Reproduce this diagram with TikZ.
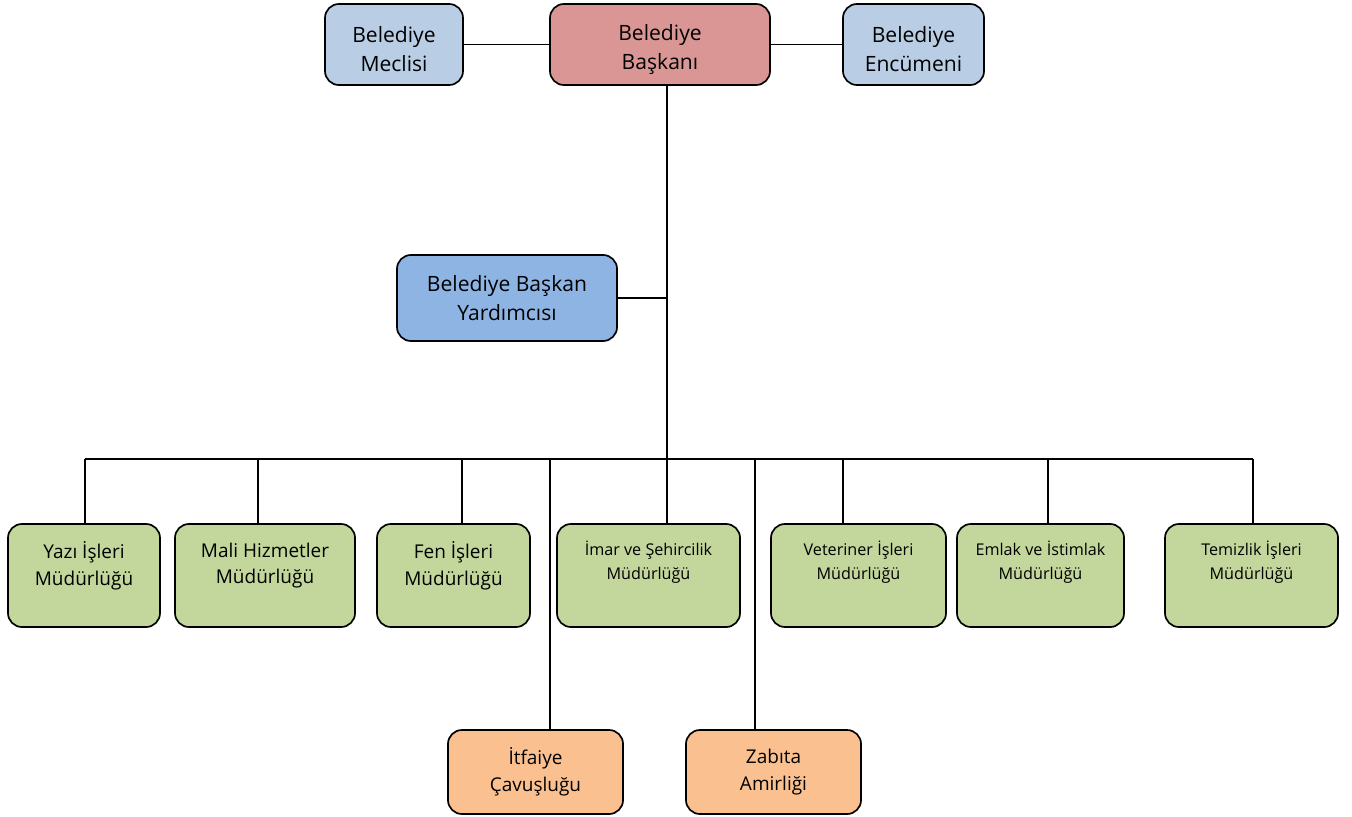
\documentclass[tikz,border=0pt]{standalone}
\usepackage{fontspec}
\setmainfont{Open Sans}
\usepackage{xcolor}
\usepackage{tikz}

\definecolor{meclisblue}{HTML}{B9CDE5}
\definecolor{baskanred}{HTML}{D99694}
\definecolor{yardimblue}{HTML}{8EB4E3}
\definecolor{mudurgreen}{HTML}{C3D69B}
\definecolor{amirorange}{HTML}{FAC090}

\begin{document}
\begin{tikzpicture}[x=0.025cm, y=-0.025cm, line width=1.3pt,
  box/.style={draw, rounded corners=0.35cm, align=center, inner sep=0, line width=1.2pt},
  topbox/.style={box, minimum height=2.025cm},
  toptext/.style={align=center, yshift=-0.12cm, font=\fontsize{15}{20.5}\selectfont},
  yardbox/.style={box, fill=yardimblue, minimum width=5.5cm, minimum height=2.15cm, font=\fontsize{15}{20.5}\selectfont},
  mudbox/.style={box, fill=mudurgreen, minimum height=2.575cm},
  bigtext/.style={align=center, yshift=0.25cm, font=\fontsize{13.5}{19}\selectfont},
  smalltext/.style={align=center, yshift=0.33cm, font=\fontsize{11.5}{17}\selectfont},
  amirbox/.style={box, fill=amirorange, minimum width=4.375cm, minimum height=2.1cm, font=\fontsize{13.5}{19}\selectfont}]

  \useasboundingbox (0,0) rectangle (1352,816);

  % Top level
  \node[topbox, fill=baskanred, minimum width=5.5cm] (bas) at (660,44.5) {};
  \node[toptext] at (bas.center) {Belediye\\Başkanı};
  \node[topbox, fill=meclisblue, minimum width=3.45cm] (mec) at (394,44.5) {};
  \node[toptext] at (mec.center) {Belediye\\Meclisi};
  \node[topbox, fill=meclisblue, minimum width=3.525cm] (enc) at (913.5,44.5) {};
  \node[toptext] at (enc.center) {Belediye\\Encümeni};

  % Deputy
  \node[yardbox] (yar) at (507,298) {Belediye Başkan\\Yardımcısı};

  % Directorates
  \node[mudbox, minimum width=3.8cm] (yazi) at (84,575.5) {};
  \node[bigtext] at (yazi.center) {Yazı İşleri\\Müdürlüğü};
  \node[mudbox, minimum width=4.5cm] (mali) at (265,575.5) {};
  \node[bigtext] at (mali.center) {Mali Hizmetler\\Müdürlüğü};
  \node[mudbox, minimum width=3.825cm] (fen) at (453.5,575.5) {};
  \node[bigtext] at (fen.center) {Fen İşleri\\Müdürlüğü};
  \node[mudbox, minimum width=4.575cm] (imar) at (648.5,575.5) {};
  \node[smalltext] at (imar.center) {İmar ve Şehircilik\\Müdürlüğü};
  \node[mudbox, minimum width=4.375cm] (vet) at (858.5,575.5) {};
  \node[smalltext] at (vet.center) {Veteriner İşleri\\Müdürlüğü};
  \node[mudbox, minimum width=4.175cm] (emlak) at (1040.5,575.5) {};
  \node[smalltext] at (emlak.center) {Emlak ve İstimlak\\Müdürlüğü};
  \node[mudbox, minimum width=4.325cm] (tem) at (1251.5,575.5) {};
  \node[smalltext] at (tem.center) {Temizlik İşleri\\Müdürlüğü};

  % Bottom level
  \node[amirbox] (itf) at (535.5,772) {İtfaiye\\Çavuşluğu};
  \node[amirbox] (zab) at (773.5,772) {Zabıta\\Amirliği};

  % Bus points
  \coordinate (bus) at (667,459);
  \coordinate (d1) at (85,459);
  \coordinate (d2) at (258,459);
  \coordinate (d3) at (462,459);
  \coordinate (d4) at (843,459);
  \coordinate (d5) at (1048,459);
  \coordinate (d6) at (1253,459);
  \coordinate (d7) at (550,459);
  \coordinate (d8) at (755,459);

  % Connectors
  \draw (mec) -- (bas);
  \draw (bas) -- (enc);
  \draw (bas.south -| bus) -- (bus);
  \draw (yar.east) -- (yar.east -| bus);
  \draw (d1) -- (d6);
  \draw (d1) -- (d1 |- yazi.north);
  \draw (d2) -- (d2 |- mali.north);
  \draw (d3) -- (d3 |- fen.north);
  \draw (bus) -- (bus |- imar.north);
  \draw (d4) -- (d4 |- vet.north);
  \draw (d5) -- (d5 |- emlak.north);
  \draw (d6) -- (d6 |- tem.north);
  \draw (d7) -- (d7 |- itf.north);
  \draw (d8) -- (d8 |- zab.north);
\end{tikzpicture}
\end{document}
